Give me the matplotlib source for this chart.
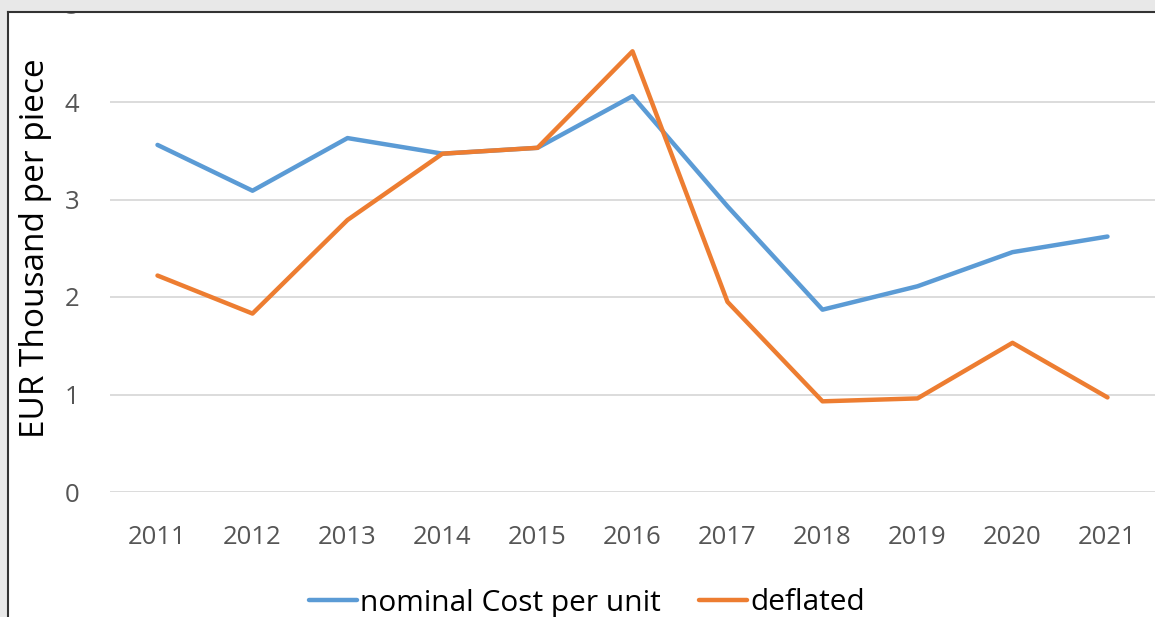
import matplotlib.pyplot as plt
from matplotlib.lines import Line2D
from matplotlib.patches import Rectangle

plt.rcParams['font.family'] = ['Open Sans', 'DejaVu Sans']

# Data
years = ['2011', '2012', '2013', '2014', '2015', '2016', '2017', '2018', '2019', '2020', '2021']
nominal = [3.56, 3.09, 3.63, 3.47, 3.53, 4.06, 2.93, 1.87, 2.11, 2.46, 2.62]
deflated = [2.22, 1.83, 2.79, 3.47, 3.53, 4.52, 1.95, 0.93, 0.96, 1.53, 0.97]

W, H = 1155, 617
fig = plt.figure(figsize=(W / 100, H / 100), dpi=100)
ax = fig.add_axes([110 / W, (H - 492) / H, (1155 - 110) / W, 487.5 / H])

x = range(len(years))
ax.plot(x, nominal, color='#5B9BD5', lw=3.2, label='nominal Cost per unit', solid_capstyle='round')
ax.plot(x, deflated, color='#ED7D31', lw=3.2, label='deflated', solid_capstyle='round')

ax.set_xlim(-0.5, len(years) - 0.5)
ax.set_ylim(0, 5)
ax.set_xticks(list(x))
ax.set_xticklabels(years)
ax.set_yticks([0, 1, 2, 3, 4, 5])
ax.tick_params(axis='both', length=0, labelsize=18.5, labelcolor='#555555')
ax.tick_params(axis='y', pad=22)
ax.tick_params(axis='x', pad=24)
ax.grid(axis='y', color='#D9D9D9', lw=1.3)
ax.set_axisbelow(True)
for s in ax.spines.values():
    s.set_visible(False)
ax.set_ylabel('EUR Thousand per piece', fontsize=24, color='black', labelpad=9)

fig.legend(loc='center', bbox_to_anchor=(587 / W, (H - 603) / H), ncol=2, frameon=False,
           fontsize=21.5, handlelength=1.6, handletextpad=0.1, columnspacing=1.3)

# screenshot frame: grey margin and dark border line
fig.add_artist(Rectangle((0, (H - 10) / H), 1, 10 / H, transform=fig.transFigure,
                         color='#E8E8E8', zorder=10))
fig.add_artist(Rectangle((0, 0), 6 / W, 1, transform=fig.transFigure,
                         color='#E8E8E8', zorder=10))
fig.add_artist(Line2D([8 / W, 1], [(H - 12) / H] * 2, transform=fig.transFigure,
                      color='#333333', lw=1.5, zorder=11))
fig.add_artist(Line2D([8 / W] * 2, [0, (H - 12) / H], transform=fig.transFigure,
                      color='#333333', lw=1.5, zorder=11))
fig.add_artist(Rectangle((6 / W, (H - 12) / H), 1, 2 / H, transform=fig.transFigure,
                         color='white', zorder=9))

fig.savefig('out.png', dpi=100)
